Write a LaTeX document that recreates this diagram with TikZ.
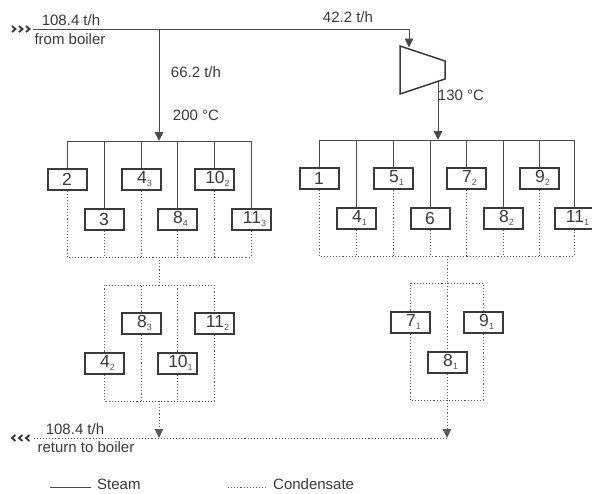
\documentclass[tikz,border=0pt]{standalone}
\usepackage{fontspec}
\setmainfont{Liberation Sans}
\usetikzlibrary{arrows.meta}
\definecolor{INK}{HTML}{3A3A3A}
\definecolor{PIPE}{HTML}{4A4A4A}
\definecolor{COND}{HTML}{5A5A5A}
\definecolor{SUBN}{HTML}{555555}
\newcommand{\unitlbl}[2]{\hspace*{7pt}#1\raisebox{-3pt}{\fontsize{9}{9}\selectfont\textcolor{SUBN}{#2}}}
\begin{document}
\begin{tikzpicture}[x=1pt,y=-1pt]
\tikzset{steam/.style={line width=1pt,PIPE},cond/.style={line width=1pt,COND,dash pattern=on 1.1pt off 2pt},
 tipline/.style={-{Triangle[length=9pt,width=8.5pt]}},chev/.style={line width=1.9pt,INK,line join=miter},
 unitbox/.style={rectangle,draw=INK,line width=2pt,fill=white,minimum width=39pt,minimum height=21pt,inner sep=0pt,font=\fontsize{17.5}{17.5}\selectfont,text=INK},
 lbl/.style={font=\fontsize{15}{15}\selectfont,text=INK,inner sep=0pt}}
\useasboundingbox (0,0) rectangle (592,493);
% steam side
\coordinate (inlet) at (33,29);
\coordinate (tee) at (159,29);
\coordinate (corner) at (409,29);
\coordinate (lbus) at (159,141);
\coordinate (turbin) at (409,47.5);
\coordinate (turbout) at (438,81);
\coordinate (rbus) at (438,140);
% units, left group
\node[unitbox] (a2) at (67,179) {2};
\node[unitbox] (a3) at (104,219) {3};
\node[unitbox] (a43) at (141,179) {\unitlbl{4}{3}};
\node[unitbox] (a84) at (177,219) {\unitlbl{8}{4}};
\node[unitbox] (a102) at (214,179) {\unitlbl{10}{2}};
\node[unitbox] (a113) at (251,219) {\unitlbl{11}{3}};
\node[unitbox] (a83) at (141,323) {\unitlbl{8}{3}};
\node[unitbox] (a112) at (214,323) {\unitlbl{11}{2}};
\node[unitbox] (a42) at (104,363) {\unitlbl{4}{2}};
\node[unitbox] (a101) at (177,363) {\unitlbl{10}{1}};
% units, right group
\node[unitbox] (b1) at (319,178) {1};
\node[unitbox] (b41) at (356,218) {\unitlbl{4}{1}};
\node[unitbox] (b51) at (393,178) {\unitlbl{5}{1}};
\node[unitbox] (b6) at (430,218) {6};
\node[unitbox] (b72) at (466,178) {\unitlbl{7}{2}};
\node[unitbox] (b82) at (503,218) {\unitlbl{8}{2}};
\node[unitbox] (b92) at (539,178) {\unitlbl{9}{2}};
\node[unitbox] (b111) at (574,218) {\unitlbl{11}{1}};
\node[unitbox] (b71) at (410,322) {\unitlbl{7}{1}};
\node[unitbox] (b91) at (483,322) {\unitlbl{9}{1}};
\node[unitbox] (b81) at (447,362) {\unitlbl{8}{1}};
% condensate side
\coordinate (lcon) at (159,257);
\coordinate (ltop) at (159,285);
\coordinate (lbot) at (159,401);
\coordinate (lret) at (159,438);
\coordinate (rcon) at (447,256);
\coordinate (rtop) at (447,283);
\coordinate (rbot) at (447,400);
\coordinate (rret) at (447,438);
\coordinate (outlet) at (33,438);
% steam lines
\draw[steam] (inlet) -- (corner);
\draw[steam,tipline] (corner) -- (turbin);
\draw[steam,tipline] (tee) -- (lbus);
\draw[steam,tipline] (turbout) -- (rbus);
\draw[line width=1.5pt,INK,line join=miter,fill=white] (400,46) -- (445,61) -- (445,79) -- (400,94) -- cycle;
\draw[steam] (a2 |- lbus) -- (a113 |- lbus);
\draw[steam] (a2 |- lbus) -- (a2);
\draw[steam] (a3 |- lbus) -- (a3);
\draw[steam] (a43 |- lbus) -- (a43);
\draw[steam] (a84 |- lbus) -- (a84);
\draw[steam] (a102 |- lbus) -- (a102);
\draw[steam] (a113 |- lbus) -- (a113);
\draw[steam] (b1 |- rbus) -- (b111 |- rbus);
\draw[steam] (b1 |- rbus) -- (b1);
\draw[steam] (b41 |- rbus) -- (b41);
\draw[steam] (b51 |- rbus) -- (b51);
\draw[steam] (b6 |- rbus) -- (b6);
\draw[steam] (b72 |- rbus) -- (b72);
\draw[steam] (b82 |- rbus) -- (b82);
\draw[steam] (b92 |- rbus) -- (b92);
\draw[steam] (b111 |- rbus) -- (b111);
% condensate lines, left
\draw[cond] (a2.south) -- (a2 |- lcon) -- (a113 |- lcon) -- (a113.south);
\draw[cond] (a3.south) -- (a3 |- lcon);
\draw[cond] (a43.south) -- (a43 |- lcon);
\draw[cond] (a84.south) -- (a84 |- lcon);
\draw[cond] (a102.south) -- (a102 |- lcon);
\draw[cond] (lcon) -- (ltop);
\draw[cond] (a42.north) -- (a42 |- ltop) -- (a112 |- ltop) -- (a112.north);
\draw[cond] (a83.north) -- (a83 |- ltop);
\draw[cond] (a101.north) -- (a101 |- ltop);
\draw[cond] (a42.south) -- (a42 |- lbot) -- (a112 |- lbot) -- (a112.south);
\draw[cond] (a83.south) -- (a83 |- lbot);
\draw[cond] (a101.south) -- (a101 |- lbot);
\draw[cond,tipline] (lbot) -- (lret);
% condensate lines, right
\draw[cond] (b1.south) -- (b1 |- rcon) -- (b111 |- rcon) -- (b111.south);
\draw[cond] (b41.south) -- (b41 |- rcon);
\draw[cond] (b51.south) -- (b51 |- rcon);
\draw[cond] (b6.south) -- (b6 |- rcon);
\draw[cond] (b72.south) -- (b72 |- rcon);
\draw[cond] (b82.south) -- (b82 |- rcon);
\draw[cond] (b92.south) -- (b92 |- rcon);
\draw[cond] (rcon) -- (rtop);
\draw[cond] (b71.north) -- (b71 |- rtop) -- (b91 |- rtop) -- (b91.north);
\draw[cond] (rtop) -- (b81.north);
\draw[cond] (b71.south) -- (b71 |- rbot) -- (b91 |- rbot) -- (b91.south);
\draw[cond] (b81.south) -- (rbot);
\draw[cond,tipline] (rbot) -- (rret);
\draw[cond] (rret) -- (outlet);
% chevrons
\draw[chev] (12,26) -- (15.5,29) -- (12,32);
\draw[chev] (19,26) -- (22.5,29) -- (19,32);
\draw[chev] (26,26) -- (29.5,29) -- (26,32);
\draw[chev] (15.5,435) -- (12,438) -- (15.5,441);
\draw[chev] (22.5,435) -- (19,438) -- (22.5,441);
\draw[chev] (29.5,435) -- (26,438) -- (29.5,441);
% labels
\node[lbl] (flowin) at (71,20) {108.4 t/h};
\node[lbl] (fromb) at (70,39) {from boiler};
\node[lbl] (flowl) at (196,72) {66.2 t/h};
\node[lbl] (templ) at (196,115) {200 °C};
\node[lbl] (flowr) at (348,17) {42.2 t/h};
\node[lbl] (tempr) at (461,95) {130 °C};
\node[lbl] (flowout) at (75,429) {108.4 t/h};
\node[lbl] (tob) at (86,447) {return to boiler};
% legend
\coordinate (steamA) at (50,487);
\coordinate (steamB) at (91,487);
\coordinate (condA) at (228,487);
\coordinate (condB) at (268,487);
\draw[steam] (steamA) -- (steamB);
\draw[cond] (condA) -- (condB);
\node[lbl,anchor=west] (steamtxt) at (97,484.5) {Steam};
\node[lbl,anchor=west] (condtxt) at (273,484.5) {Condensate};
\end{tikzpicture}
\end{document}
